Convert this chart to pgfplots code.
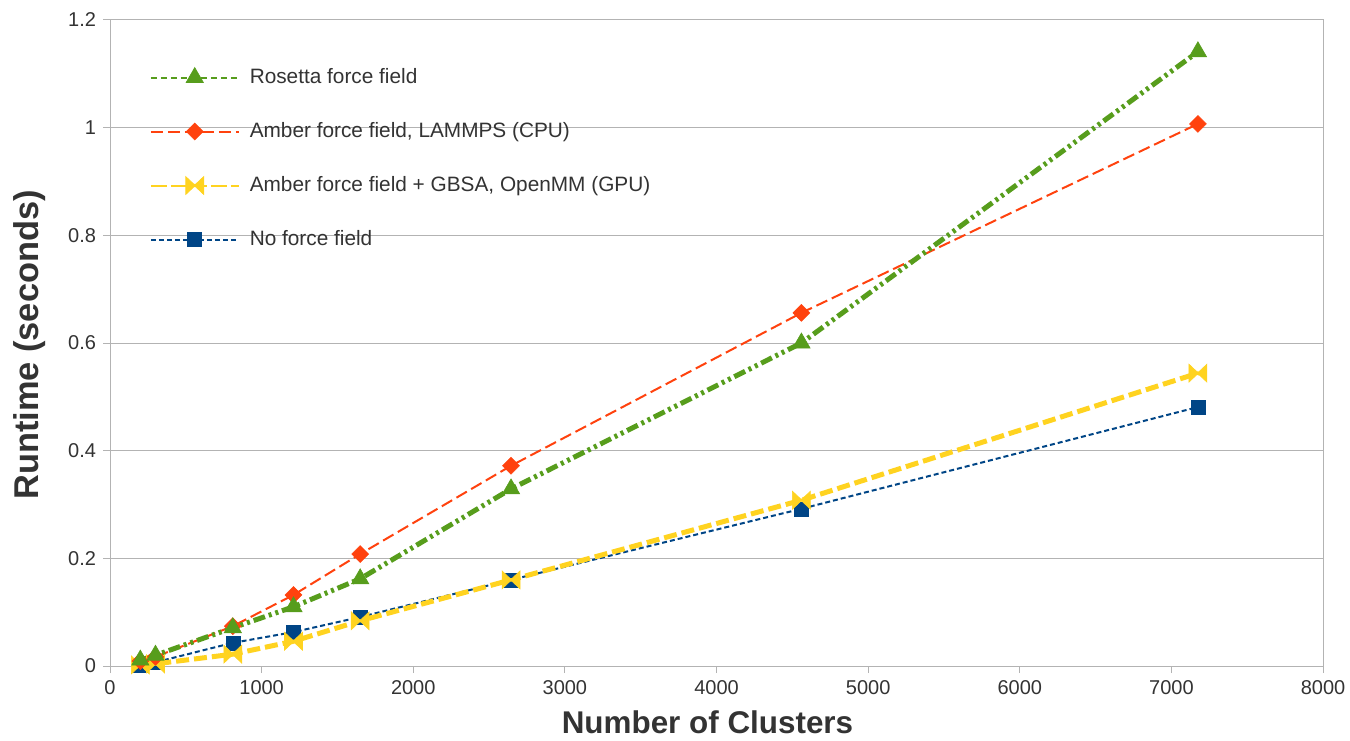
\documentclass[border=0pt]{standalone}
\usepackage{fontspec}
\setmainfont{Liberation Sans}
\usepackage{pgfplots}
\pgfplotsset{compat=1.18}
\definecolor{cgreen}{HTML}{579D1C}
\definecolor{cred}{HTML}{FF420E}
\definecolor{cyellow}{HTML}{FFD320}
\definecolor{cblue}{HTML}{004586}
\definecolor{gridgray}{HTML}{B3B3B3}
\definecolor{txtgray}{HTML}{333333}

\pgfdeclareplotmark{bowtie}{%
 \pgfpathmoveto{\pgfqpoint{-\pgfplotmarksize}{\pgfplotmarksize}}%
 \pgfpathlineto{\pgfqpoint{-0.1\pgfplotmarksize}{0.15\pgfplotmarksize}}%
 \pgfpathlineto{\pgfqpoint{0.1\pgfplotmarksize}{0.15\pgfplotmarksize}}%
 \pgfpathlineto{\pgfqpoint{\pgfplotmarksize}{\pgfplotmarksize}}%
 \pgfpathlineto{\pgfqpoint{\pgfplotmarksize}{-\pgfplotmarksize}}%
 \pgfpathlineto{\pgfqpoint{0.1\pgfplotmarksize}{-0.15\pgfplotmarksize}}%
 \pgfpathlineto{\pgfqpoint{-0.1\pgfplotmarksize}{-0.15\pgfplotmarksize}}%
 \pgfpathlineto{\pgfqpoint{-\pgfplotmarksize}{-\pgfplotmarksize}}%
 \pgfpathclose
 \pgfusepathqfillstroke}
\pgfdeclareplotmark{sqdiamond}{%
 \pgfpathmoveto{\pgfqpoint{0pt}{\pgfplotmarksize}}%
 \pgfpathlineto{\pgfqpoint{\pgfplotmarksize}{0pt}}%
 \pgfpathlineto{\pgfqpoint{0pt}{-\pgfplotmarksize}}%
 \pgfpathlineto{\pgfqpoint{-\pgfplotmarksize}{0pt}}%
 \pgfpathclose
 \pgfusepathqfillstroke}

\begin{document}
\begin{tikzpicture}
\begin{axis}[
  scale only axis, width=606.5pt, height=323pt,
  xmin=0, xmax=8000, ymin=0, ymax=1.2,
  xtick={0,1000,...,8000}, ytick={0,0.2,0.4,0.6,0.8,1,1.2},
  scaled x ticks=false,
  ymajorgrids, grid style={gridgray, line width=0.5pt},
  axis line style={gridgray, line width=0.5pt},
  tick style={gridgray, line width=0.5pt},
  tick align=outside, major tick length=3.5pt,
  xtick pos=lower, ytick pos=left,
  tick label style={font=\fontsize{10}{12}\selectfont, text=txtgray},
  /pgf/number format/assume math mode=true,
  /pgf/number format/1000 sep={},
  xlabel={Number of Clusters}, ylabel={Runtime (seconds)},
  every axis x label/.style={at={(axis description cs:0.5,0)}, anchor=center, yshift=-28pt, xshift=-4.5pt,
    font=\fontsize{15.7}{18}\selectfont\bfseries, text=txtgray},
  every axis y label/.style={at={(axis description cs:0,0.5)}, anchor=center, rotate=90, yshift=40pt, xshift=-1pt,
    font=\fontsize{17.2}{20}\selectfont\bfseries, text=txtgray},
  legend style={at={(0.0275,0.934)}, anchor=north west, draw=none, fill=none,
    row sep=16.5pt, column sep=5pt, font=\fontsize{10.4}{12}\selectfont, text=txtgray,
    nodes={inner sep=0pt, text height=8pt, text depth=2.5pt}},
  legend cell align=left,
  reverse legend,
  legend image code/.code={\draw[mark repeat=2,mark phase=2] plot coordinates {(0pt,0pt)(22pt,0pt)(44pt,0pt)};},
]
% No force field
\addplot[cblue, line width=1pt, dash pattern=on 2.5pt off 1.5pt, mark=square*, mark size=3.5pt,
  mark options={solid, fill=cblue, line width=0.3pt}]
  coordinates {(200,0.002)(300,0.007)(810,0.043)(1210,0.063)(1650,0.091)(2645,0.160)(4560,0.292)(7175,0.481)};
% GPU
\addplot[cyellow, line width=2.5pt, dash pattern=on 6.5pt off 2.5pt, mark=bowtie, mark size=4.5pt,
  mark options={solid, fill=cyellow, line width=0.3pt},
  legend image post style={line width=1pt, dash pattern=on 8pt off 2pt}]
  coordinates {(200,0.002)(300,0.004)(810,0.022)(1210,0.046)(1650,0.084)(2645,0.160)(4560,0.308)(7175,0.544)};
% CPU
\addplot[cred, line width=1pt, dash pattern=on 6pt off 2.5pt, mark=sqdiamond, mark size=4.2pt,
  mark options={solid, fill=cred, line width=0.3pt}]
  coordinates {(200,0.009)(300,0.017)(810,0.074)(1210,0.132)(1650,0.208)(2645,0.372)(4560,0.656)(7175,1.007)};
% Rosetta
\addplot[cgreen, line width=2.5pt, dash pattern=on 6pt off 2pt on 1.5pt off 2pt on 1.5pt off 2pt, mark=triangle*, mark size=5pt,
  mark options={solid, fill=cgreen, line width=0.3pt},
  legend image post style={line width=1pt, dash pattern=on 3pt off 2pt}]
  coordinates {(200,0.011)(300,0.020)(810,0.071)(1210,0.110)(1650,0.162)(2645,0.329)(4560,0.600)(7175,1.141)};
\legend{No force field, {Amber force field + GBSA, OpenMM (GPU)}, {Amber force field, LAMMPS (CPU)}, Rosetta force field}
\end{axis}
\pgfresetboundingbox
\path[use as bounding box] ([shift={(-55pt,-37pt)}]current axis.south west) rectangle ([shift={(13.5pt,10pt)}]current axis.north east);
\end{tikzpicture}
\end{document}
